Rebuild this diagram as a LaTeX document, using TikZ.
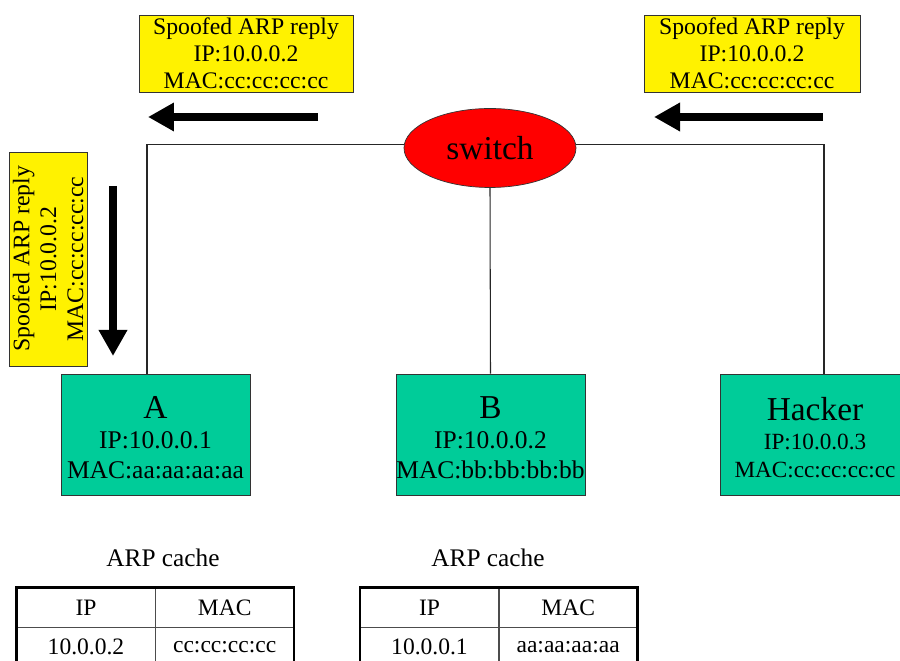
\documentclass[tikz,border=0pt]{standalone}
\usepackage{fontspec}
\setmainfont{Liberation Serif}
\usetikzlibrary{shapes.geometric, arrows.meta, positioning}
\definecolor{hostgreen}{RGB}{0,204,153}

\begin{document}
\begin{tikzpicture}[
          x=0.02cm, y=-0.02cm,
          spoofed/.style={draw=black!80,fill=yellow,align=center,inner sep=0pt,
            minimum width=4.28cm,minimum height=1.54cm,
            font=\fontsize{13.5}{15.3}\selectfont},
          host/.style={draw=black!80,fill=hostgreen,align=center,inner sep=0pt,
            minimum width=3.78cm,minimum height=2.42cm,
            font=\fontsize{14.5}{17.2}\selectfont},
          title/.style={font=\fontsize{19}{19}\selectfont},
          link/.style={draw=black!85,line width=0.6pt},
          bigarrow/.style={line width=5pt,-{Triangle[width=0.54cm,length=0.52cm]}},
          cell/.style={draw=black!70,inner sep=0pt,minimum width=2.76cm,
            minimum height=0.78cm,font=\fontsize{13.4}{16}\selectfont},
          rim/.style={line width=1.4pt},
        ]
        \useasboundingbox (0,0) rectangle (900,661);
        \clip (0,0) rectangle (900,661);

        \node[draw=black!80,fill=red,ellipse,inner sep=0pt,minimum width=3.44cm,
          minimum height=1.58cm,title] (sw) at (490,148) {switch};

        \node[host] (a) at (155.5,434.5)
          {\rule{0pt}{16pt}{\fontsize{19}{19}\selectfont A}\\IP:10.0.0.1\\MAC:aa:aa:aa:aa};
        \node[host] (b) at (490.5,434.5)
          {\rule{0pt}{16pt}{\fontsize{19}{19}\selectfont B}\\IP:10.0.0.2\\MAC:bb:bb:bb:bb};
        \node[host,font=\fontsize{13.2}{16.2}\selectfont] (hacker) at (815,434.5)
          {\rule{0pt}{17pt}{\fontsize{19}{19}\selectfont Hacker}\\IP:10.0.0.3\\MAC:cc:cc:cc:cc};

        \draw[link] ([yshift=0.07cm]sw.west) -| ([xshift=-0.17cm]a.north);
        \draw[link] (sw.south) -- (b.north);
        \draw[link] ([yshift=0.07cm]sw.east) -| ([xshift=0.18cm]hacker.north);

        \node[spoofed] (spoofl) at (246,53.5)
          {Spoofed ARP reply\\IP:10.0.0.2\\MAC:cc:cc:cc:cc};
        \node[spoofed,minimum width=4.32cm] (spoofr) at (752,53.5)
          {Spoofed ARP reply\\IP:10.0.0.2\\MAC:cc:cc:cc:cc};
        \node[spoofed,rotate=90,minimum height=1.56cm] (spoofa) at (48,259)
          {Spoofed ARP reply\\IP:10.0.0.2\\MAC:cc:cc:cc:cc};

        \coordinate (ltail) at (318,117);
        \coordinate (lhead) at (148,117);
        \coordinate (rtail) at (823,117);
        \coordinate (rhead) at (654,117);
        \coordinate (dtail) at (113,186);
        \coordinate (dhead) at (113,356);
        \draw[bigarrow] (ltail) -- (lhead);
        \draw[bigarrow] (rtail) -- (rhead);
        \draw[bigarrow] (dtail) -- (dhead);

        \node[font=\fontsize{14.4}{17}\selectfont] (cachea) at (163,558) {ARP cache};
        \node[font=\fontsize{14.4}{17}\selectfont] (cacheb) at (488,558) {ARP cache};

        \node[cell] (aip) at (86,607.5) {IP};
        \node[cell,right=0pt of aip] (amac) {MAC};
        \node[cell,below=0pt of aip] (aipv) {10.0.0.2};
        \node[cell,below=0pt of amac] (amacv) {cc:cc:cc:cc};
        \draw[rim] (aipv.south west) |- (amac.north east) -- (amacv.south east);

        \node[cell] (bip) at (429.5,607.5) {IP};
        \node[cell,right=0pt of bip] (bmac) {MAC};
        \node[cell,below=0pt of bip] (bipv) {10.0.0.1};
        \node[cell,below=0pt of bmac] (bmacv) {aa:aa:aa:aa};
        \draw[rim] (bipv.south west) |- (bmac.north east) -- (bmacv.south east);
      \end{tikzpicture}
\end{document}
